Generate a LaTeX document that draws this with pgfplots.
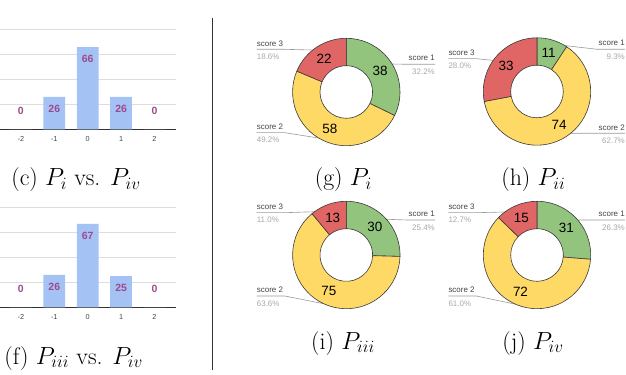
\documentclass[border=0pt]{standalone}
\usepackage{fontspec}
\usepackage{pgfplots}
\pgfplotsset{compat=1.18}
\usepackage{pgfplotstable}
\newfontfamily\arial{Liberation Sans}
\definecolor{gsblue}{HTML}{A4C2F4}
\definecolor{gsgreen}{HTML}{93C47D}
\definecolor{gsyellow}{HTML}{FFD966}
\definecolor{gsred}{HTML}{E06666}
\definecolor{gslabel}{HTML}{9C4A8C}
\definecolor{gsgrid}{HTML}{DDDDDD}
\definecolor{gsaxis}{HTML}{333333}
\definecolor{gstext}{HTML}{444444}
\definecolor{gspct}{HTML}{A8A8A8}
\definecolor{gslead}{HTML}{9A9A9A}
\definecolor{gsedge}{HTML}{3A3A3A}

\pgfplotstableread{
x v
-2 0
-1 26
0 66
1 26
2 0
}\tabC
\pgfplotstableread{
x v
-2 0
-1 26
0 67
1 25
2 0
}\tabF

\pgfplotsset{
  barstyle/.style={
    x=33.4bp, y=1.245bp, xmin=-2.625, xmax=2.645, ymin=0, ymax=82,
    scale only axis, clip=false, anchor=south west,
    axis line style={draw=none},
    ytick={20,40,60,80}, yticklabels={},
    ymajorgrids, grid style={gsgrid, line width=0.8bp},
    extra y ticks={0}, extra y tick labels={},
    extra y tick style={grid style={gsaxis, line width=0.8bp}},
    xtick={-2,-1,0,1,2},
    tick style={draw=none}, major tick length=0pt,
    /pgf/number format/assume math mode=true,
    xticklabel style={font=\arial\fontsize{7.3}{8}\selectfont, text=gstext, anchor=center, yshift=-10bp},
  },
  barlabels/.style={
    only marks, mark=*, mark size=0pt, mark options={draw=none, fill=none},
    nodes near coords, point meta=explicit symbolic,
    every node near coord/.style={font=\arial\bfseries\fontsize{10.5}{12}\selectfont, text=gslabel, anchor=center, yshift=-11.7bp},
  },
  donutstyle/.style={
    hide axis, x=1bp, y=1bp, xmin=-95, xmax=95, ymin=-60, ymax=60,
    scale only axis, clip=false, anchor=center,
  },
}

% angles computed outside the axis: score 1, score 2, score 3
\newcommand\prepdonut[3]{%
  \pgfmathsetmacro\tot{#1+#2+#3}%
  \pgfmathsetmacro\aB{90-#1/\tot*360}%
  \pgfmathsetmacro\aC{\aB-#2/\tot*360}%
  \pgfmathsetmacro\mA{(90+\aB)/2}%
  \pgfmathsetmacro\mB{(\aB+\aC)/2}%
  \pgfmathsetmacro\mC{(\aC-270)/2}%
  \def\vA{#1}\def\vB{#2}\def\vC{#3}%
}
% slice: start angle, end angle, colour, value, mid angle
\newcommand\slice[5]{%
  \filldraw[fill=#3, draw=gsedge, line width=0.6bp]
    (#1:53.7bp) arc[start angle=#1, end angle=#2, radius=53.7bp]
    -- (#2:26.3bp) arc[start angle=#2, end angle=#1, radius=26.3bp] -- cycle;
  \node[font=\arial\fontsize{13.5}{15}\selectfont, inner sep=0pt] at (#5:40bp) {#4};
}
\newcommand\drawdonut{%
  \begin{scope}[shift={(axis cs:0,0)}]
  \slice{90}{\aB}{gsgreen}{\vA}{\mA}%
  \slice{\aB}{\aC}{gsyellow}{\vB}{\mB}%
  \slice{\aC}{-270}{gsred}{\vC}{\mC}%
  \end{scope}
}
% leader labels: x, y (text centre), name, percent, angle of edge point
\newcommand\leaderL[5]{%
  \draw[gslead, line width=0.6bp] (#1bp,#2bp-6bp) -- (#1bp+28bp,#2bp-6bp) -- (#5:53.7bp);
  \node[anchor=west, inner sep=0pt, font=\arial\fontsize{8}{9}\selectfont, text=gstext] at (#1bp,#2bp) {#3};
  \node[anchor=west, inner sep=0pt, font=\arial\fontsize{8}{9}\selectfont, text=gspct] at (#1bp,#2bp-13.3bp) {#4};
}
\newcommand\leaderR[5]{%
  \draw[gslead, line width=0.6bp] (#1bp,#2bp-6bp) -- (#1bp-28bp,#2bp-6bp) -- (#5:53.7bp);
  \node[anchor=east, inner sep=0pt, font=\arial\fontsize{8}{9}\selectfont, text=gstext] at (#1bp,#2bp) {#3};
  \node[anchor=east, inner sep=0pt, font=\arial\fontsize{8}{9}\selectfont, text=gspct] at (#1bp,#2bp-13.3bp) {#4};
}
\newcommand\capfont{\fontsize{24}{28}\selectfont}

\begin{document}
\begin{tikzpicture}
\useasboundingbox (0bp,0bp) rectangle (626bp,375bp);

% (c)
\begin{axis}[barstyle, at={(0bp,245.7bp)}]
\addplot[ybar, bar width=21.7bp, fill=gsblue, draw=none] table[x=x, y=v]{\tabC};
\addplot[barlabels] table[x=x, y expr={ifthenelse(\thisrow{v}>0,\thisrow{v},24)}, meta=v]{\tabC};
\end{axis}
\node[font=\capfont] at (76bp,195bp) {(c) $P_i$ vs. $P_{iv}$};

% (f)
\begin{axis}[barstyle, at={(0bp,67.7bp)}]
\addplot[ybar, bar width=21.7bp, fill=gsblue, draw=none] table[x=x, y=v]{\tabF};
\addplot[barlabels] table[x=x, y expr={ifthenelse(\thisrow{v}>0,\thisrow{v},24)}, meta=v]{\tabF};
\end{axis}
\node[font=\capfont] at (73.7bp,16.7bp) {(f) $P_{iii}$ vs. $P_{iv}$};

% divider
\draw[gsaxis, line width=0.9bp] (212.3bp,357bp) -- (212.3bp,5bp);

% (g)
\prepdonut{38}{58}{22}
\begin{axis}[donutstyle, at={(346.3bp,283bp)}]
\pgfplotsextra{%
  \begin{scope}[shift={(axis cs:0,0)}]
  \leaderL{-89.6}{48.7}{score 3}{18.6\%}{128.6}%
  \leaderL{-89.6}{-34.7}{score 2}{49.2\%}{239}%
  \leaderR{88.7}{33.7}{score 1}{32.2\%}{31.4}%
  \end{scope}
  \drawdonut
}
\end{axis}
\node[font=\capfont] at (343.3bp,195bp) {(g) $P_i$};

% (h)
\prepdonut{11}{74}{33}
\begin{axis}[donutstyle, at={(537bp,283.5bp)}]
\pgfplotsextra{%
  \begin{scope}[shift={(axis cs:0,0)}]
  \leaderL{-88.7}{38.8}{score 3}{28.0\%}{144.6}%
  \leaderR{88}{48.2}{score 1}{9.3\%}{58.9}%
  \leaderR{88}{-35.8}{score 2}{62.7\%}{-51.1}%
  \end{scope}
  \drawdonut
}
\end{axis}
\node[font=\capfont] at (533.3bp,195bp) {(h) $P_{ii}$};

% (i)
\prepdonut{30}{75}{13}
\begin{axis}[donutstyle, at={(346.3bp,120bp)}]
\pgfplotsextra{%
  \begin{scope}[shift={(axis cs:0,0)}]
  \leaderL{-89.6}{48.3}{score 3}{11.0\%}{126.3}%
  \leaderL{-89.6}{-35}{score 2}{63.6\%}{245.2}%
  \leaderR{88.7}{41}{score 1}{25.4\%}{41.7}%
  \end{scope}
  \drawdonut
}
\end{axis}
\node[font=\capfont] at (343bp,31.7bp) {(i) $P_{iii}$};

% (j)
\prepdonut{31}{72}{15}
\begin{axis}[donutstyle, at={(537bp,120bp)}]
\pgfplotsextra{%
  \begin{scope}[shift={(axis cs:0,0)}]
  \leaderL{-88.7}{48.3}{score 3}{12.7\%}{126.8}%
  \leaderL{-88.7}{-35}{score 2}{61.0\%}{246.5}%
  \leaderR{88}{41}{score 1}{26.3\%}{40.7}%
  \end{scope}
  \drawdonut
}
\end{axis}
\node[font=\capfont] at (533bp,31.7bp) {(j) $P_{iv}$};

\end{tikzpicture}
\end{document}
